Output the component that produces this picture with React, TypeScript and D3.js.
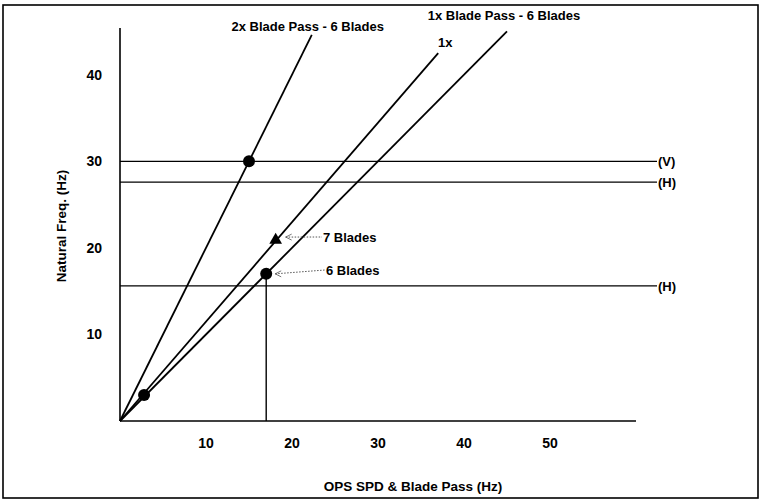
import React from "react";
import * as d3 from "d3";

const xTicks = [10, 20, 30, 40, 50];
const yTicks = [10, 20, 30, 40];

// diagonal lines from origin: [label, endX, endY]
const lineNames = ["2x Blade Pass - 6 Blades", "1x Blade Pass - 6 Blades", "1x"];
const lineEndX = [22.3, 45, 37];
const lineEndY = [44.6, 45, 42.5];

// horizontal natural frequency lines
const hLineValues = [30, 27.6, 15.6];
const hLineLabels = ["(V)", "(H)", "(H)"];

// markers
const circleX = [2.8, 15, 17];
const circleY = [3, 30, 17];
const triangleX = [18.1];
const triangleY = [20.9];

// annotations
const annoNames = ["7 Blades", "6 Blades"];
const annoX = [18.1, 17];
const annoY = [20.9, 17];

export default function App() {
  const W = 760, H = 500;
  const x = d3.scaleLinear().domain([0, 60]).range([120, 636]);
  const y = d3.scaleLinear().domain([0, 45.4]).range([421, 28]);
  const font = "'Liberation Sans', Arial, sans-serif";
  const tri = d3.symbol().type(d3.symbolTriangle).size(70)();

  const topLabelOffsets = [
    { dx: -4, dy: -4 },
    { dx: -3, dy: -11 },
    { dx: 7, dy: -6 },
  ];

  return (
    <svg width={W} height={H} style={{ position: "absolute", left: 0, top: 0, background: "#fff" }} fontFamily={font}>
      <rect x={3} y={5} width={755} height={493} fill="none" stroke="#000" strokeWidth={1.6} />
      {/* axes */}
      <line x1={x(0)} y1={y(0)} x2={x(0)} y2={y(45.4)} stroke="#000" strokeWidth={1.6} />
      <line x1={x(0)} y1={y(0)} x2={x(60)} y2={y(0)} stroke="#000" strokeWidth={1.6} />
      {xTicks.map((t) => (
        <text key={"xt" + t} x={x(t)} y={448} textAnchor="middle" fontSize={14} fontWeight="bold">{t}</text>
      ))}
      {yTicks.map((t) => (
        <text key={"yt" + t} x={102} y={y(t) + 5} textAnchor="end" fontSize={14} fontWeight="bold">{t}</text>
      ))}
      <text x={413} y={491} textAnchor="middle" fontSize={13.5} fontWeight="bold">OPS SPD &amp; Blade Pass (Hz)</text>
      <text transform={`translate(66,226) rotate(-90)`} textAnchor="middle" fontSize={13.5} fontWeight="bold">Natural Freq. (Hz)</text>

      {/* horizontal lines */}
      {hLineValues.map((v, i) => (
        <g key={"h" + i}>
          <line x1={x(0)} y1={y(v)} x2={657} y2={y(v)} stroke="#000" strokeWidth={1.2} />
          <text x={658} y={y(v) + 5} fontSize={13} fontWeight="bold">{hLineLabels[i]}</text>
        </g>
      ))}

      {/* vertical drop line */}
      <line x1={x(circleX[2])} y1={y(circleY[2])} x2={x(circleX[2])} y2={y(0)} stroke="#000" strokeWidth={1.4} />

      {/* diagonal lines */}
      {lineNames.map((n, i) => (
        <g key={"l" + i}>
          <line x1={x(0)} y1={y(0)} x2={x(lineEndX[i])} y2={y(lineEndY[i])} stroke="#000" strokeWidth={1.8} />
          <text
            x={x(lineEndX[i]) + topLabelOffsets[i].dx}
            y={y(lineEndY[i]) + topLabelOffsets[i].dy}
            textAnchor="middle"
            fontSize={13}
            fontWeight="bold"
          >{n}</text>
        </g>
      ))}

      {/* markers */}
      {circleX.map((cx, i) => (
        <circle key={"c" + i} cx={x(cx)} cy={y(circleY[i])} r={6} fill="#000" />
      ))}
      {triangleX.map((tx, i) => (
        <path key={"t" + i} d={tri as string} transform={`translate(${x(tx)},${y(triangleY[i])})`} fill="#000" />
      ))}

      {/* annotations */}
      {annoNames.map((n, i) => {
        const px = x(annoX[i]) + (i === 0 ? 10 : 9);
        const py = y(annoY[i]) + (i === 0 ? -3 : 0);
        const tx = i === 0 ? 323 : 326;
        const ty = i === 0 ? 237 : 270;
        return (
          <g key={"a" + i}>
            <polyline points={`${px + 6},${py - 3} ${px},${py} ${px + 6},${py + 3}`} fill="none" stroke="#555" strokeWidth={0.8} />
            <line x1={px} y1={py} x2={tx - 1} y2={ty} stroke="#555" strokeWidth={1} strokeDasharray="1.5,1.5" />
            <text x={tx} y={ty + 5} fontSize={13} fontWeight="bold">{n}</text>
          </g>
        );
      })}
    </svg>
  );
}
